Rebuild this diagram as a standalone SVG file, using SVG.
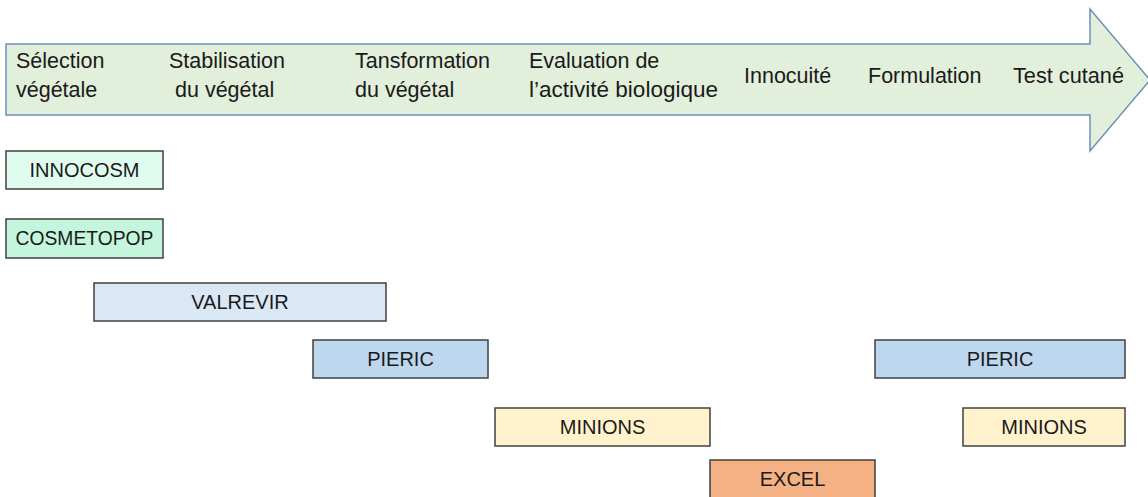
<svg xmlns="http://www.w3.org/2000/svg" width="1148" height="497" viewBox="0 0 1148 497">
<style>
.t{font-family:"Liberation Sans",Arial,sans-serif;font-size:21.5px;fill:#1a1a1a}
.l{font-family:"Liberation Sans",Arial,sans-serif;font-size:20px;fill:#1a1a1a;text-anchor:middle}
.b{stroke:#404040;stroke-width:1.5}
</style>
<rect width="1148" height="497" fill="#ffffff"/>
<g id="timeline">
<polygon points="6,44 1090,44 1090,9 1150,80 1090,151 1090,115 6,115" fill="#E2EFDA" stroke="#6E8FBD" stroke-width="1.5"/>
<text class="t" x="16" y="68">Sélection</text>
<text class="t" x="16" y="97">végétale</text>
<text class="t" x="169" y="68">Stabilisation</text>
<text class="t" x="175" y="97">du végétal</text>
<text class="t" x="355" y="68">Tansformation</text>
<text class="t" x="355" y="97">du végétal</text>
<text class="t" x="529" y="68">Evaluation de</text>
<text class="t" x="529" y="97" textLength="189" lengthAdjust="spacingAndGlyphs">l’activité biologique</text>
<text class="t" x="744" y="83">Innocuité</text>
<text class="t" x="868" y="83">Formulation</text>
<text class="t" x="1013" y="83" textLength="111" lengthAdjust="spacingAndGlyphs">Test cutané</text>
</g>
<g id="innocosm"><rect class="b" x="6" y="151" width="157" height="38" fill="#E0FCEF"/><text class="l" x="84.5" y="177">INNOCOSM</text></g>
<g id="cosmetopop"><rect class="b" x="6" y="219" width="157" height="39" fill="#C3F6DD"/><text class="l" x="84.5" y="245" textLength="138" lengthAdjust="spacingAndGlyphs">COSMETOPOP</text></g>
<g id="valrevir"><rect class="b" x="94" y="283" width="292" height="38" fill="#DAE8F6"/><text class="l" x="240" y="309">VALREVIR</text></g>
<g id="pieric1"><rect class="b" x="313" y="340" width="175" height="38" fill="#BDD7EE"/><text class="l" x="400.5" y="366">PIERIC</text></g>
<g id="pieric2"><rect class="b" x="875" y="340" width="250" height="38" fill="#BDD7EE"/><text class="l" x="1000" y="366">PIERIC</text></g>
<g id="minions1"><rect class="b" x="495" y="408" width="215" height="38" fill="#FFF2CC"/><text class="l" x="602.5" y="434">MINIONS</text></g>
<g id="minions2"><rect class="b" x="963" y="408" width="162" height="38" fill="#FFF2CC"/><text class="l" x="1044" y="434">MINIONS</text></g>
<g id="excel"><rect class="b" x="710" y="460" width="165" height="40" fill="#F4B183"/><text class="l" x="792.5" y="486">EXCEL</text></g>
<g id="connectors"/>
</svg>
